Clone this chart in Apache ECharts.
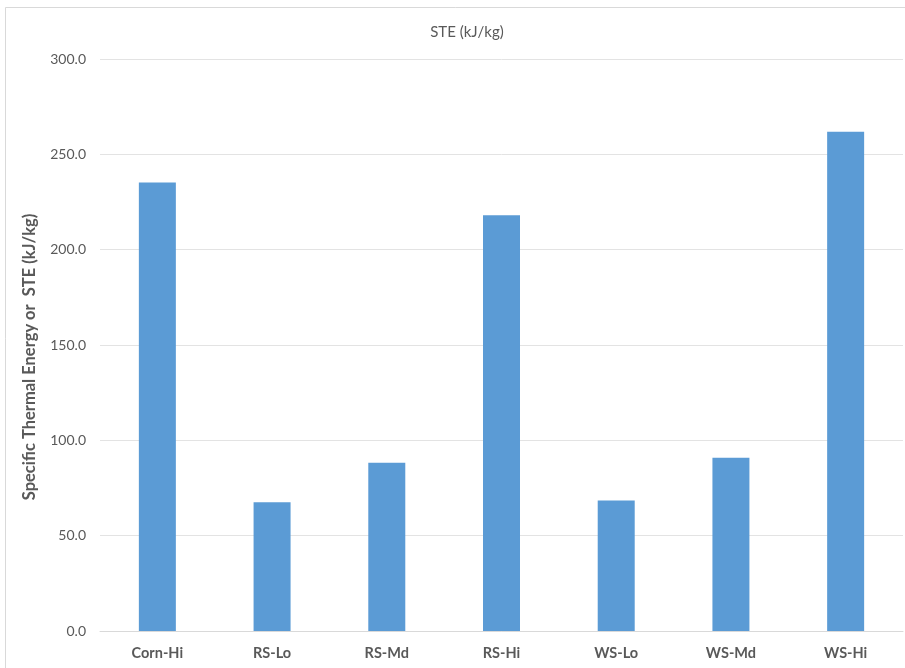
<!DOCTYPE html>
<html>
<head>
<meta charset="utf-8">
<script src="https://cdn.jsdelivr.net/npm/echarts@6/dist/echarts.min.js"></script>
<style>
  html, body { margin: 0; padding: 0; background: #ffffff; }
  #chart { width: 905px; height: 668px; }
</style>
</head>
<body>
<div id="chart"></div>
<script>
// Specific thermal energy per feedstock/condition
const categories = ['Corn-Hi', 'RS-Lo', 'RS-Md', 'RS-Hi', 'WS-Lo', 'WS-Md', 'WS-Hi'];
const steValues = [235.2, 67.5, 88.2, 218.1, 68.4, 90.8, 261.8];
const yTicks = { min: 0, max: 300, interval: 50 };
const yAxisTitle = 'Specific Thermal Energy or  STE (kJ/kg)';

const textColor = '#595959';
const fontFamily = 'Lato, "Open Sans", sans-serif';

const chart = echarts.init(document.getElementById('chart'), null, { renderer: 'canvas' });

chart.setOption({
  backgroundColor: '#ffffff',
  animation: false,
  title: {
    text: 'STE (kJ/kg)',
    left: 462,
    top: 20,
    textAlign: 'center',
    textStyle: { color: textColor, fontSize: 15, fontWeight: 'normal', fontFamily: fontFamily }
  },
  graphic: [{
    type: 'rect',
    shape: { x: 5.5, y: 7.5, width: 920, height: 700 },
    style: { fill: 'none', stroke: '#d9d9d9', lineWidth: 1 },
    z: -1
  }, {
    // vertical axis title
    type: 'text',
    x: 30,
    y: 357,
    rotation: Math.PI / 2,
    style: {
      text: yAxisTitle,
      fill: textColor,
      font: 'bold 16.5px ' + fontFamily,
      textAlign: 'center',
      textVerticalAlign: 'middle'
    }
  }],
  grid: { left: 100, right: 2, top: 59, bottom: 37, containLabel: false },
  xAxis: {
    type: 'category',
    data: categories,
    axisLine: { show: true, lineStyle: { color: '#d9d9d9', width: 1 } },
    axisTick: { show: false },
    axisLabel: {
      color: textColor, fontSize: 14.5, fontWeight: 'bold', fontFamily: fontFamily, margin: 15
    }
  },
  yAxis: {
    type: 'value',
    min: yTicks.min,
    max: yTicks.max,
    interval: yTicks.interval,
    axisLine: { show: false },
    axisTick: { show: false },
    splitLine: { lineStyle: { color: '#e3e3e3', width: 1 } },
    axisLabel: {
      color: textColor, fontSize: 14, fontFamily: fontFamily, margin: 14,
      formatter: v => v.toFixed(1)
    }
  },
  series: [{
    type: 'bar',
    data: steValues,
    barWidth: 37,
    itemStyle: { color: '#5b9bd5' }
  }]
});
</script>
</body>
</html>
